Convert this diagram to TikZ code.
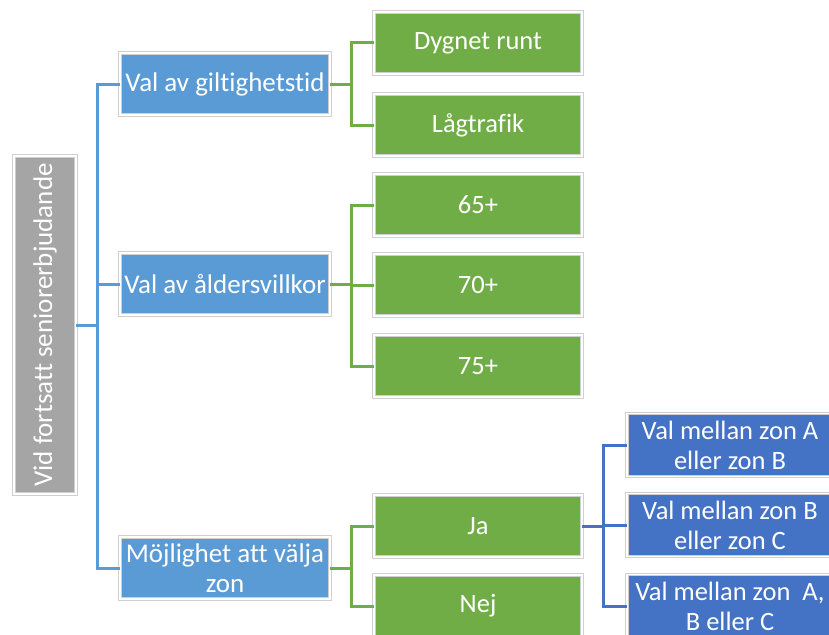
\documentclass[tikz,border=0pt]{standalone}
\usepackage{fontspec}
\setmainfont[Ligatures=CommonOff]{Carlito}
\definecolor{rootgray}{HTML}{A5A5A5}
\definecolor{lblue}{HTML}{5B9BD5}
\definecolor{lgreen}{HTML}{70AD47}
\definecolor{dblue}{HTML}{4472C4}
\definecolor{rimgray}{HTML}{D0D0D0}
\begin{document}
\begin{tikzpicture}[x=1pt,y=-1pt,
  box/.style={draw=rimgray, double=white, double distance=1.6pt, line width=0.8pt,
    inner sep=0pt, text=white, align=center, font=\fontsize{27}{30}\selectfont},
  rootbox/.style={box, fill=rootgray, minimum width=62pt, minimum height=338pt},
  lonebox/.style={box, fill=lblue, minimum width=210pt, minimum height=62pt},
  greenbox/.style={box, fill=lgreen, minimum width=208pt, minimum height=62pt, font=\fontsize{26.5}{30}\selectfont},
  zonebox/.style={box, fill=dblue, minimum width=206pt, minimum height=63pt, font=\fontsize{26.5}{30}\selectfont},
  bline/.style={draw=lblue, line width=3pt},
  gline/.style={draw=lgreen, line width=3pt},
  dline/.style={draw=dblue, line width=3pt}]
\clip (0,0) rectangle (829,634);
\fill[white] (0,0) rectangle (829,634);

\node[rootbox] (root) at (45,325) {\rotatebox{90}{Vid fortsatt seniorerbjudande}};

\node[lonebox] (giltig) at (225,84) {Val av giltighetstid};
\node[lonebox] (alder) at (225,284) {Val av åldersvillkor};
\node[lonebox] (zon) at (225,568) {Möjlighet att välja\\zon};

\node[greenbox] (dygn) at (478,43) {Dygnet runt};
\node[greenbox] (lag) at (478,125) {Lågtrafik};
\node[greenbox] (s65) at (478,205) {65+};
\node[greenbox] (s70) at (478,285) {70+};
\node[greenbox] (s75) at (478,366) {75+};
\node[greenbox] (ja) at (478,526) {Ja};
\node[greenbox] (nej) at (478,606) {Nej};

\node[zonebox] (zab) at (730,445) {Val mellan zon A\\eller zon B};
\node[zonebox] (zbc) at (730,525) {Val mellan zon B\\eller zon C};
\node[zonebox] (zabc) at (730,606) {Val mellan zon~ A,\\B eller C};

\coordinate (rj) at (97,325);
\draw[bline] (root.east) -- (rj);
\draw[bline] (rj) |- (giltig.west);
\draw[bline] (rj) |- (alder.west);
\draw[bline] (rj) |- (zon.west);

\draw[gline] (giltig.east) -- ++(21,0) coordinate (gj1);
\draw[gline] (gj1) |- (dygn.west);
\draw[gline] (gj1) |- (lag.west);
\draw[gline] (alder.east) -- ++(21,0) coordinate (gj2);
\draw[gline] (gj2) |- (s65.west);
\draw[gline] (gj2) |- (s70.west);
\draw[gline] (gj2) |- (s75.west);
\draw[gline] (zon.east) -- ++(21,0) coordinate (gj3);
\draw[gline] (gj3) |- (ja.west);
\draw[gline] (gj3) |- (nej.west);

\draw[dline] (ja.east) -- ++(21,0) coordinate (dj);
\draw[dline] (dj) |- (zab.west);
\draw[dline] (dj) |- (zbc.west);
\draw[dline] (dj) |- (zabc.west);
\end{tikzpicture}
\end{document}
